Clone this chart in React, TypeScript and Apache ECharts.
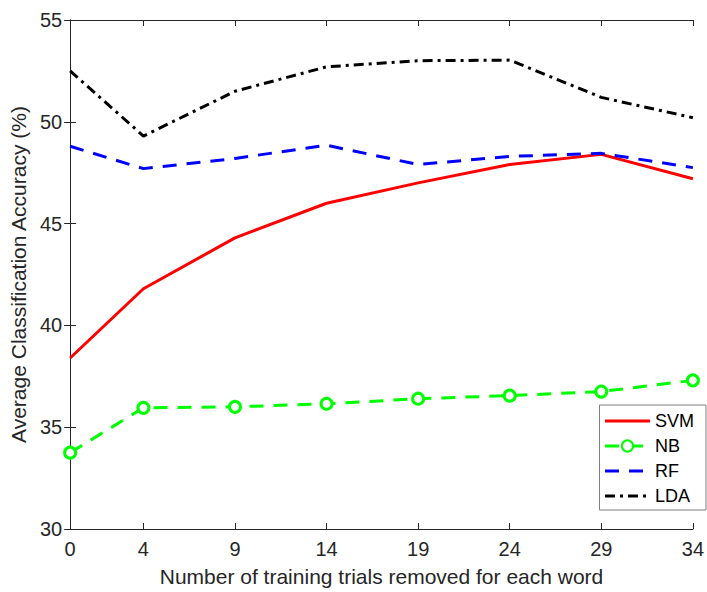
import React, { useEffect, useRef } from "react";
import * as echarts from "echarts";

const xTicks = [0, 4, 9, 14, 19, 24, 29, 34];
const seriesNames = ["SVM", "NB", "RF", "LDA"];
const svm = [38.4, 41.8, 44.3, 46.0, 47.0, 47.9, 48.4, 47.2];
const nb = [33.75, 35.95, 36.0, 36.15, 36.4, 36.55, 36.75, 37.3];
const rf = [48.8, 47.7, 48.2, 48.85, 47.9, 48.3, 48.45, 47.75];
const lda = [52.5, 49.3, 51.5, 52.7, 53.0, 53.03, 51.2, 50.2];

const FONT = "'Liberation Sans', Arial, Helvetica, sans-serif";
const AX = "#262626";

function pairs(v: number[]) {
  return v.map((y, i) => [xTicks[i], y]);
}

export default function App() {
  const ref = useRef<HTMLDivElement>(null);
  useEffect(() => {
    if (!ref.current) return;
    const chart = echarts.init(ref.current, undefined, { renderer: "svg" });
    const tick = { show: true, inside: true, length: 6, lineStyle: { color: AX, width: 1 } };
    chart.setOption({
      animation: false,
      backgroundColor: "#fff",
      grid: { left: 70, right: 9, top: 20, bottom: 61, containLabel: false },
      xAxis: [
        {
          type: "value",
          min: 0,
          max: 34,
          position: "bottom",
          name: "Number of training trials removed for each word",
          nameLocation: "middle",
          nameGap: 37,
          nameTextStyle: { fontFamily: FONT, fontSize: 21, color: AX },
          axisLine: { show: true, lineStyle: { color: AX, width: 1 } },
          axisTick: { ...tick, customValues: xTicks },
          axisLabel: { customValues: xTicks, fontFamily: FONT, fontSize: 20, color: AX, margin: 10 },
          splitLine: { show: false },
        },
        {
          type: "value",
          min: 0,
          max: 34,
          position: "top",
          axisLine: { show: true, lineStyle: { color: AX, width: 1 } },
          axisTick: { ...tick, customValues: xTicks },
          axisLabel: { show: false },
          splitLine: { show: false },
        },
      ],
      yAxis: [
        {
          type: "value",
          min: 30,
          max: 55,
          interval: 5,
          position: "left",
          name: "Average Classification Accuracy (%)",
          nameLocation: "middle",
          nameGap: 36,
          nameTextStyle: { fontFamily: FONT, fontSize: 21, color: AX },
          axisLine: { show: true, lineStyle: { color: AX, width: 1 } },
          axisTick: tick,
          axisLabel: { fontFamily: FONT, fontSize: 20, color: AX, margin: 8 },
          splitLine: { show: false },
        },
        {
          type: "value",
          min: 30,
          max: 55,
          interval: 5,
          position: "right",
          axisLine: { show: true, lineStyle: { color: AX, width: 1 } },
          axisTick: tick,
          axisLabel: { show: false },
          splitLine: { show: false },
        },
      ],
      legend: {
        orient: "vertical",
        right: 1,
        top: 405,
        itemWidth: 45,
        itemHeight: 14,
        itemGap: 7,
        padding: [7, 12, 5, 4],
        backgroundColor: "#fff",
        borderColor: "#7f7f7f",
        borderWidth: 1,
        textStyle: { fontFamily: FONT, fontSize: 18, color: "#000" },
        data: seriesNames.map((n) =>
          n === "NB"
            ? { name: n, lineStyle: { width: 3 } }
            : { name: n, itemStyle: { opacity: 0 }, lineStyle: { width: 3 } }
        ),
      },
      series: [
        {
          name: seriesNames[0],
          type: "line",
          data: pairs(svm),
          symbol: "none",
          lineStyle: { color: "#ff0000", width: 3 },
          itemStyle: { color: "#ff0000" },
        },
        {
          name: seriesNames[1],
          type: "line",
          data: pairs(nb),
          symbol: "circle",
          symbolSize: 11,
          lineStyle: { color: "#00ff00", width: 3, type: [14, 10] },
          itemStyle: { color: "#fff", borderColor: "#00ff00", borderWidth: 3 },
        },
        {
          name: seriesNames[2],
          type: "line",
          data: pairs(rf),
          symbol: "none",
          lineStyle: { color: "#0000ff", width: 3, type: [14, 10] },
          itemStyle: { color: "#0000ff" },
        },
        {
          name: seriesNames[3],
          type: "line",
          data: pairs(lda),
          symbol: "none",
          lineStyle: { color: "#000000", width: 3, type: [10, 5, 3, 5] },
          itemStyle: { color: "#000000" },
        },
      ],
    });
    return () => chart.dispose();
  }, []);
  return <div ref={ref} style={{ width: 707, height: 592, position: "absolute", left: 0, top: 0 }} />;
}
